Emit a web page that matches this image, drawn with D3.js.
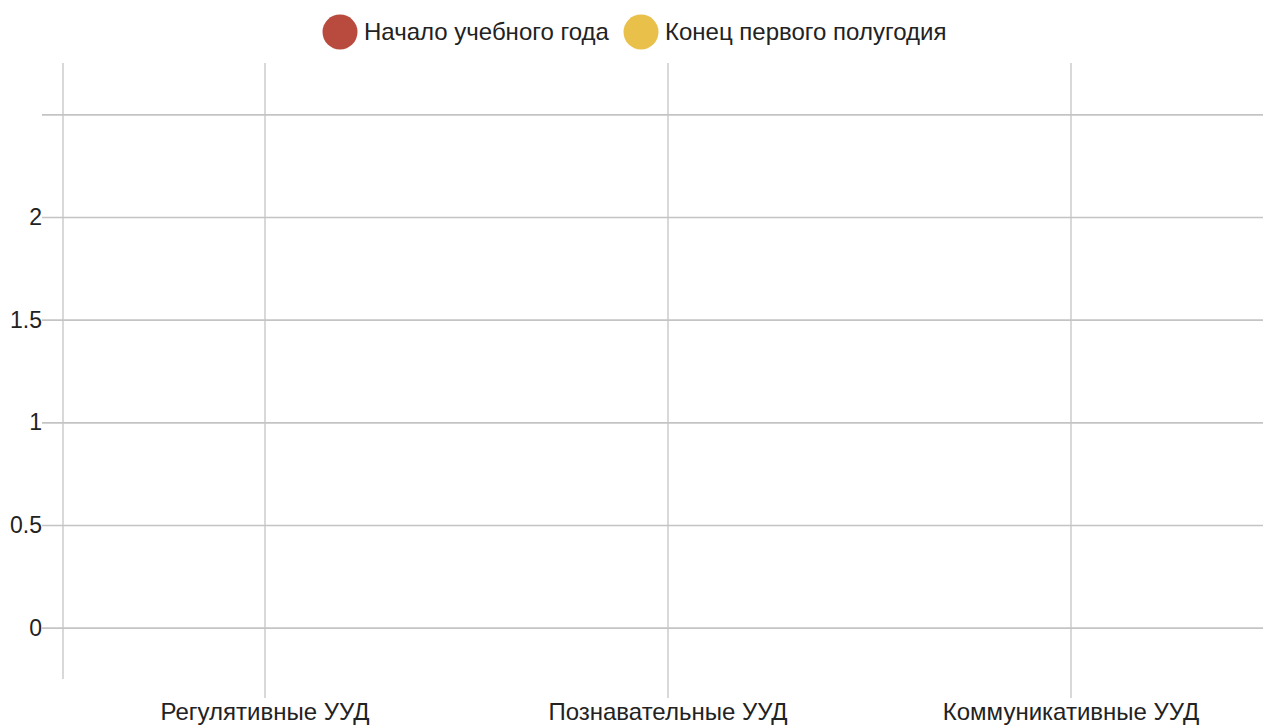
<!DOCTYPE html>
<html><head><meta charset="utf-8">
<script src="https://cdn.jsdelivr.net/npm/d3@7"></script>
<style>body{margin:0;background:#fff}svg{display:block}text{font-family:"Liberation Sans",Arial,sans-serif}</style>
</head><body><svg id="c" width="1263" height="725"></svg>
<script>
const categories = ["Регулятивные УУД", "Познавательные УУД", "Коммуникативные УУД"];
const seriesNames = ["Начало учебного года", "Конец первого полугодия"];
const seriesColors = ["#b94a3e", "#e8c04a"];
const startValues = [null, null, null];
const endValues = [null, null, null];
const yTicks = [0, 0.5, 1, 1.5, 2, 2.5];
const yTickLabels = ["0", "0.5", "1", "1.5", "2", ""];

const svg = d3.select("#c");
const x = d3.scalePoint().domain(categories).range([63, 1272]).padding(0.5);
const y = d3.scaleLinear().domain([-0.25, 2.75]).range([679, 63]);
const grid = "#c4c4c4";

const yAxis = d3.axisLeft(y).tickValues(yTicks).tickSize(0).tickPadding(6)
  .tickFormat((d,i)=>yTickLabels[i]);
const gy = svg.append("g").attr("transform","translate(42,0)").call(yAxis);
gy.select(".domain").remove();
gy.selectAll(".tick line").attr("x2", 1263-42).attr("stroke", grid).attr("stroke-width", 1.6);
gy.selectAll(".tick text").attr("font-size", 23).attr("fill", "#222").attr("x", 0).attr("text-anchor","end").attr("dx", 0).attr("dy", "0.32em");

svg.append("line").attr("x1",63).attr("x2",63).attr("y1",y(2.75)).attr("y2",y(-0.25)).attr("stroke",grid).attr("stroke-width",1.3);

const xAxis = d3.axisBottom(x).tickSize(0);
const gx = svg.append("g").attr("transform","translate(0,698)").call(xAxis);
gx.select(".domain").remove();
gx.selectAll(".tick line").attr("y2", -(698-63)).attr("stroke", grid).attr("stroke-width", 1.3);
gx.selectAll(".tick text").attr("font-size", 24).attr("fill", "#222").attr("y", 14).attr("dy","0.32em");

[startValues, endValues].forEach((vals, si) => {
  svg.append("g").selectAll("circle").data(vals.map((v,i)=>({c:categories[i], v})).filter(d=>d.v!=null))
    .join("circle").attr("cx", d=>x(d.c)).attr("cy", d=>y(d.v)).attr("r", 6).attr("fill", seriesColors[si]);
});

const legendX = [340, 641];
const lg = svg.append("g");
seriesNames.forEach((n,i)=>{
  lg.append("circle").attr("cx", legendX[i]).attr("cy", 32).attr("r", 17.5).attr("fill", seriesColors[i]);
  lg.append("text").attr("x", legendX[i]+24).attr("y", 32).attr("dy","0.35em").attr("font-size",24).attr("fill","#222").text(n);
});
</script></body></html>
